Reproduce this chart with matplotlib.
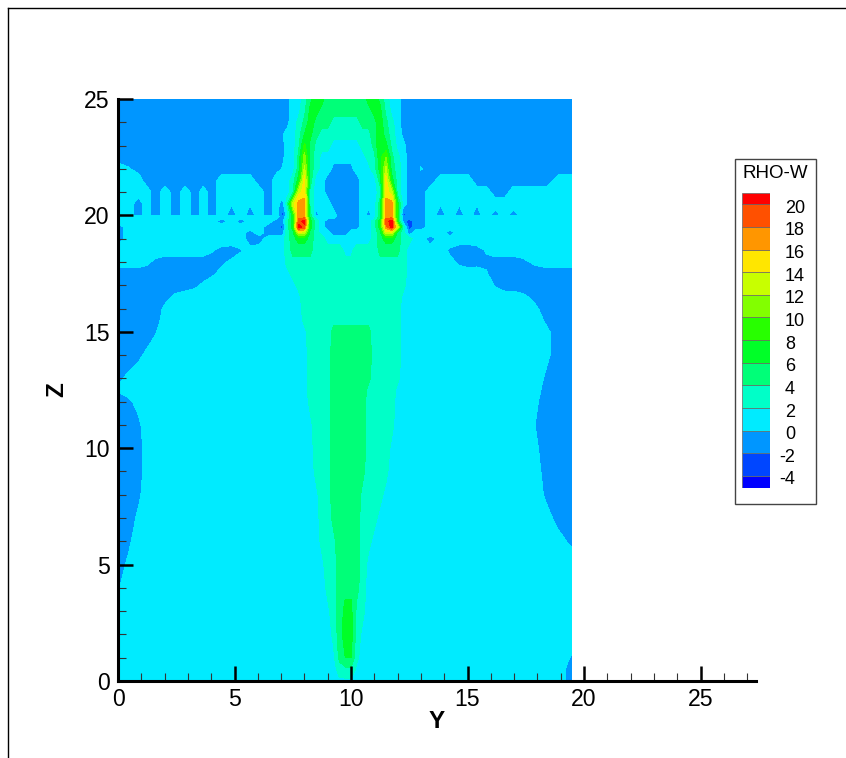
import numpy as np
import matplotlib
matplotlib.use("Agg")
import matplotlib.pyplot as plt
from matplotlib.lines import Line2D
from matplotlib.patches import Rectangle
from matplotlib.ticker import MultipleLocator

plt.rcParams["font.family"] = ["Liberation Sans", "DejaVu Sans"]

# ---- 1. Data ----
LEVELS = [-6, -4, -2, 0, 2, 4, 6, 8, 10, 12, 14, 16, 18, 20, 22]
LEGEND_LEVELS = [20, 18, 16, 14, 12, 10, 8, 6, 4, 2, 0, -2, -4]
COLORS = ["#0000ff", "#0046ff", "#0096ff", "#00ebff", "#00ffc8", "#00ff78", "#00ff28",
          "#28ff00", "#82ff00", "#c8ff00", "#ffe600", "#ff9600", "#ff5000", "#ff0000"]

Y_LEFT = [0, 0.45, 0.88, 1.24, 1.59, 2.02, 2.45, 2.88, 3.31, 3.66, 4.02, 4.45, 4.88, 5.27, 5.67, 6.06, 6.45, 6.8, 7.05]
Y_JET1 = [7.25, 7.5, 7.75, 8, 8.25, 8.5, 8.75, 9, 9.25, 9.5, 9.75]
Y_MID = [10]
Y_JET2 = [10.25, 10.5, 10.75, 11, 11.25, 11.5, 11.75, 12, 12.25, 12.5, 12.75]
Y_RIGHT = [13, 13.4, 13.85, 14.25, 14.65, 15.03, 15.4, 15.8, 16.2, 16.58, 16.96, 17.4, 17.9, 18.4, 18.9, 19.48]

Z_ROWS = [25, 24.5, 24, 23.5, 23, 22.5, 22, 21.5, 21, 20.5, 20, 19.95, 19.75, 19.5, 19.25, 19, 18.5, 18, 17.5, 17,
          16.5, 16, 15.5, 15, 14, 13, 12.5, 12, 11, 10, 9, 8, 7, 6, 5, 4, 3, 2, 1, 0.5, 0]

# RHO-W per band, one letter per grid point, columns grouped as the Y_ lists
BAND = {"v": -5, "d": -3, "b": -1, "x": 0.2, ".": 1, "a": 3, "s": 5, "g": 7, "h": 9,
        "l": 11, "y": 13, "u": 15, "o": 17, "p": 19, "r": 21}
RHO_W = [
    "bbbbbbbbbbbbbbbbbbb b..asggssss s ssggsa..bbb bbbbbbbbbbbbbbbb",
    "bbbbbbbbbbbbbbbbbbb b..aggsssss s sssgga..bbb bbbbbbbbbbbbbbbb",
    "bbbbbbbbbbbbbbbbbbb b.asgsssaaa a asssgsa.bbb bbbbbbbbbbbbbbbb",
    "bbbbbbbbbbbbbbbbbb. ..asgsaaaaa a aaasgsa.bbb bbbbbbbbbbbbbbbb",
    "bbbbbbbbbbbbbbbbbbb ..ahsaaa... . .aashsa..bb bbbbbbbbbbbbbbbb",
    "bbbbbbbbbbbbbbbbbbb ..slsa..... . ..aaglsa.bb bbbbbbbbbbbbbbbb",
    "..bbbbbbbbbbbbbbbb. ..sysa..bbb b ...agysa.bb .bbbbbbbbbbbbbbb",
    "...bbbbbbbb....bb.. .agus..bbbb b b...suga.bb bb....bbbbbbbb..",
    "....b.b.b.b.....b.. .ayua..bbbb b b...auya.bb b.......bb......",
    "..b.b.b.b.b.x.x.b.b ayooa...bbb b b...soog.bb b.x.x.x.........",
    "..b.b.b.b.b.b.b.b.d .goosb...bb b b.b.soogdbb b.b.b.b.b.b.....",
    "..................b .goos....bb b b...soogbbb b...............",
    "...........b.b...bb agprga.bbbb b b..agprgbdb b...............",
    "b...............bbd agrpga.bbbb b b..agoryadb b...............",
    "b.............b.bbb asyysa..bbb . ...asyysab. ...b............",
    "b.............bb... asggsaa.... . ...asggsaa. .b..............",
    "...........bbb..... assssaaaaa. . aaaassssa.. ...bbbb.........",
    "....bbbbbbbb....... aaaaaaaaaaa a aaaaaaaaa.. ....bbbbbbbb....",
    "bbbbbbbbbbb........ .aaaaaaaaaa a aaaaaaaaa.. ........bbbbbbbb",
    "bbbbbbbbb.......... ..aaaaaaaaa a aaaaaaaaa.. ........bbbbbbbb",
    "bbbbbb............. ...aaaaaaaa a aaaaaaaa... ............bbbb",
    "bbbbb.............. ...aaaaaaaa a aaaaaaaa... .............bbb",
    "bbbbb.............. ...aaaaaaaa a aaaaaaaa... .............bbb",
    "bbbbb.............. ....aaaasss s sssaaaaa... ..............bb",
    "bbb................ ....aaaasss s sssaaaaa... ..............bb",
    "b.................. ....aaaasss s sssaaaaa... .............bbb",
    "................... ....aaaasss s ssaaaaa.... .............bbb",
    "bb................. ....aaaasss s ssaaaaa.... .............bbb",
    "bbb................ .....aaasss s ssaaaaa.... ............bbbb",
    "bbb................ .....aaasss s ssaaaa..... .............bbb",
    "bbb................ .....aaasss s ssaaaa..... .............bbb",
    "bbb................ ......aasss s saaaa...... .............bbb",
    "bb................. ......aasss s saaa....... ..............bb",
    "bb................. ......aaass s saa........ ...............b",
    "b.................. .......aass s sa......... ................",
    "b.................. .......aass s sa......... ................",
    "................... ........asg g aa......... ................",
    "................... ........asg g a.......... ................",
    "................... .........sg g a.......... ...............b",
    "................... .........aa a ........... ...............b",
    "b.................. ........... . ........... ...............b",
]

# ---- 2. Grid ----
y_grid = np.array(Y_LEFT + Y_JET1 + Y_MID + Y_JET2 + Y_RIGHT)
z_grid = np.array(Z_ROWS)[::-1]
rho = np.array([[BAND[c] for c in row.replace(" ", "")] for row in RHO_W], dtype=float)[::-1]


def soften(a, axis):
    # 1-2-1 pass so the band edges slope instead of stepping
    pad = [(0, 0), (0, 0)]
    pad[axis] = (1, 1)
    p = np.pad(a, pad, mode="edge")
    if axis == 0:
        return (p[:-2] + 2 * p[1:-1] + p[2:]) / 4
    return (p[:, :-2] + 2 * p[:, 1:-1] + p[:, 2:]) / 4


# only away from the z=20 mesh jump, which stays sharp
n_left = len(Y_LEFT)
n_right = len(y_grid) - len(Y_RIGHT)
for rows in [z_grid <= 18.5, z_grid >= 22]:
    block = soften(rho[rows], 0)
    block[:, :n_left] = soften(block[:, :n_left], 1)
    block[:, n_right:] = soften(block[:, n_right:], 1)
    rho[rows] = block

# ---- 3. Plot ----
W, H = 846, 758
fig = plt.figure(figsize=(W / 100, H / 100), dpi=100, facecolor="white")
ax = fig.add_axes([118 / W, 1 - 681 / H, (756 - 118) / W, (681 - 99) / H])

ax.contourf(y_grid, z_grid, rho, levels=LEVELS, colors=COLORS)
ax.set_xlim(0, 27.38)
ax.set_ylim(0, 25)

for side in ["top", "right"]:
    ax.spines[side].set_visible(False)
for side in ["left", "bottom"]:
    ax.spines[side].set_linewidth(2.2)

ax.xaxis.set_major_locator(MultipleLocator(5))
ax.yaxis.set_major_locator(MultipleLocator(5))
ax.xaxis.set_minor_locator(MultipleLocator(1))
ax.yaxis.set_minor_locator(MultipleLocator(1))
ax.tick_params(which="major", direction="in", length=10.8, width=1.8, labelsize=16.6)
ax.tick_params(which="minor", direction="in", length=5.8, width=0.8, color="#333333")
ax.tick_params(axis="x", which="major", pad=5)
ax.tick_params(axis="y", which="major", pad=6)

fig.text(437 / W, 1 - 721 / H, "Y", fontsize=17.5, fontweight="bold", ha="center", va="center")
fig.text(57 / W, 1 - 390 / H, "Z", fontsize=17.5, fontweight="bold", rotation=90, ha="center", va="center")

# Outer frame, only top and left show
fig.add_artist(Line2D([7.5 / W, 7.5 / W], [0, 1 - 8.3 / H], color="black", lw=1.0))
fig.add_artist(Line2D([7.5 / W, 1], [1 - 8.3 / H, 1 - 8.3 / H], color="black", lw=1.0))

# ---- 4. Legend ----
fig.add_artist(Rectangle((735 / W, 1 - 504 / H), 80.5 / W, 345 / H, transform=fig.transFigure,
                         facecolor="white", edgecolor="#444444", lw=1.0))
fig.text(775 / W, 1 - 174 / H, "RHO-W", fontsize=13.5, ha="center", va="center")

leg = fig.add_axes([742 / W, 1 - 488 / H, 28 / W, (488 - 193.3) / H])
leg.set_zorder(5)
leg.set_xlim(0, 1)
leg.set_ylim(-5.06, 20.97)
leg.axis("off")
edges = [-5.06] + LEVELS[1:-1] + [20.97]
for i, c in enumerate(COLORS):
    leg.bar(0.5, edges[i + 1] - edges[i], bottom=edges[i], width=1, color=c, edgecolor="#666666", linewidth=0.5)

for lev in LEGEND_LEVELS:
    y_fig = leg.transData.transform((0, lev))[1] / H - 4 / H
    if lev < 0:
        fig.text(795 / W, y_fig, str(lev), fontsize=13, ha="right", va="center")
    else:
        fig.text(785 / W, y_fig, str(lev), fontsize=13, ha="left", va="center")

plt.savefig("out.png", dpi=100)
